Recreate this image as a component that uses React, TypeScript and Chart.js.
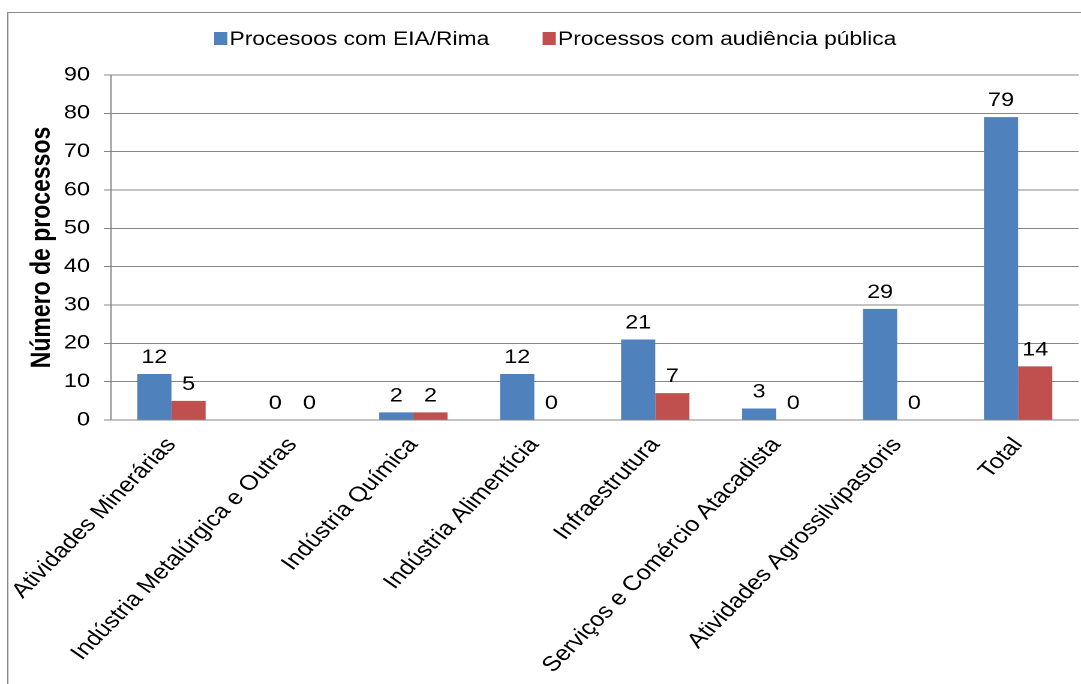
import React, { useEffect, useRef } from "react";
import { Chart, registerables } from "chart.js";

Chart.register(...registerables);

// ---- data ----
const categories = [
  "Atividades Minerárias",
  "Indústria Metalúrgica e Outras",
  "Indústria Química",
  "Indústria Alimentícia",
  "Infraestrutura",
  "Serviços e Comércio Atacadista",
  "Atividades Agrossilvipastoris",
  "Total",
];
const eiaRimaValues = [12, 0, 2, 12, 21, 3, 29, 79];
const audienciaValues = [5, 0, 2, 0, 7, 0, 0, 14];
const seriesLabels = ["Procesoos com EIA/Rima", "Processos com audiência pública"];
const seriesColors = ["#4F81BD", "#C0504D"];
const yAxisTitle = "Número de processos";
const yMin = 0;
const yMax = 90;
const yStep = 10;

// ---- layout (the reference is horizontally stretched ~1.2x) ----
const SX = 1.2;
const OUT_W = 1081;
const OUT_H = 684;
const W = Math.round(OUT_W / SX);
const H = OUT_H;
const FONT = '"Liberation Sans", Arial, sans-serif';

const borderPlugin = {
  id: "outerBorder",
  beforeDraw(chart: any) {
    const ctx = chart.ctx;
    ctx.save();
    ctx.strokeStyle = "#8a8a8a";
    ctx.lineWidth = 1;
    ctx.strokeRect(6.5, 12.5, W + 50, H + 50);
    ctx.restore();
  },
};

const valueLabelPlugin = {
  id: "valueLabels",
  afterDatasetsDraw(chart: any) {
    const ctx = chart.ctx;
    ctx.save();
    ctx.font = `19.5px ${FONT}`;
    ctx.fillStyle = "#000";
    ctx.textAlign = "center";
    ctx.textBaseline = "alphabetic";
    chart.data.datasets.forEach((ds: any, di: number) => {
      const meta = chart.getDatasetMeta(di);
      meta.data.forEach((el: any, i: number) => {
        ctx.fillText(String(ds.data[i]), el.x, el.y - 11);
      });
    });
    ctx.restore();
  },
};

const legendPlugin = {
  id: "customLegend",
  afterDraw(chart: any) {
    const ctx = chart.ctx;
    ctx.save();
    ctx.font = `19px ${FONT}`;
    ctx.textAlign = "left";
    ctx.textBaseline = "alphabetic";
    let x = 178.5;
    chart.data.datasets.forEach((ds: any) => {
      ctx.fillStyle = ds.backgroundColor;
      ctx.fillRect(x, 32, 11, 13);
      x += 11 + 1.8;
      ctx.fillStyle = "#000";
      ctx.fillText(ds.label, x, 45);
      x += ctx.measureText(ds.label).width + 44.5;
    });
    ctx.restore();
  },
};

export default function App() {
  const canvasRef = useRef<HTMLCanvasElement | null>(null);

  useEffect(() => {
    document.body.style.margin = "0";
    const canvas = canvasRef.current;
    if (!canvas) return;
    const chart = new Chart(canvas, {
      type: "bar",
      data: {
        labels: categories,
        datasets: [
          {
            label: seriesLabels[0],
            data: eiaRimaValues,
            backgroundColor: seriesColors[0],
            borderWidth: 0,
          },
          {
            label: seriesLabels[1],
            data: audienciaValues,
            backgroundColor: seriesColors[1],
            borderWidth: 0,
          },
        ],
      },
      options: {
        responsive: false,
        animation: false,
        devicePixelRatio: 2,
        layout: { padding: { top: 75, left: 0, right: 2, bottom: 0 } },
        datasets: {
          bar: { categoryPercentage: 0.565, barPercentage: 1 },
        },
        plugins: {
          legend: { display: false },
          tooltip: { enabled: false },
          title: { display: false },
        },
        scales: {
          x: {
            grid: { display: false, drawTicks: false },
            border: { display: true, color: "#868686", width: 1 },
            ticks: {
              autoSkip: false,
              minRotation: 50.2,
              maxRotation: 50.2,
              padding: 13,
              color: "#000",
              font: { family: FONT, size: 21 },
            },
            afterFit: (scale: any) => {
              scale.height = 264;
              scale.paddingLeft = 0;
              scale.paddingRight = 0;
            },
          },
          y: {
            min: yMin,
            max: yMax,
            grid: {
              color: "#868686",
              lineWidth: 1,
              drawTicks: true,
              tickLength: 6,
            },
            border: { display: true, color: "#868686", width: 1 },
            ticks: {
              stepSize: yStep,
              padding: 11.5,
              color: "#000",
              font: { family: FONT, size: 19.5 },
            },
            title: {
              display: true,
              text: yAxisTitle,
              color: "#000",
              padding: { top: 21.5, bottom: 0 },
              font: { family: FONT, size: 23, weight: "bold" },
            },
            afterFit: (scale: any) => {
              scale.width = 92.5;
            },
          },
        },
      },
      plugins: [borderPlugin, valueLabelPlugin, legendPlugin],
    } as any);
    return () => chart.destroy();
  }, []);

  return (
    <canvas
      ref={canvasRef}
      width={W}
      height={H}
      style={{ width: `${OUT_W}px`, height: `${OUT_H}px`, display: "block" }}
    />
  );
}
